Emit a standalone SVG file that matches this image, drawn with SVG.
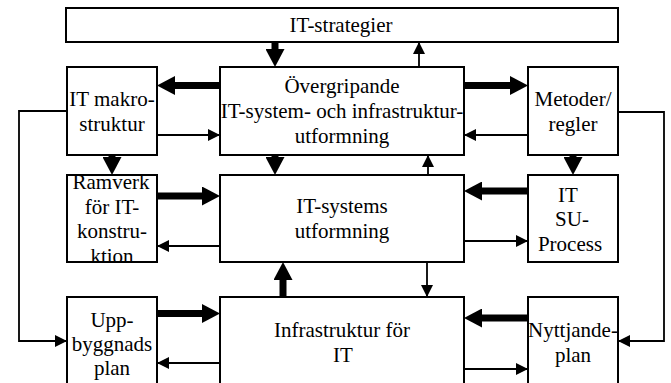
<svg xmlns="http://www.w3.org/2000/svg" width="671" height="383" viewBox="0 0 671 383">
<style>
.box{fill:#fff;stroke:#000;stroke-width:2}
.t{font-family:'Liberation Serif','Times New Roman','DejaVu Serif',serif;font-size:21px;fill:#000;text-anchor:middle}
.thick{fill:none;stroke:#000;stroke-width:7;marker-end:url(#hk)}
.thin{fill:none;stroke:#000;stroke-width:1.8;marker-end:url(#hn)}
</style>
<defs>
<marker id="hk" viewBox="0 0 18 19" markerWidth="18" markerHeight="19" refX="0" refY="9.5" orient="auto" markerUnits="userSpaceOnUse"><path d="M0,0 L18,9.5 L0,19 Z" fill="#000"/></marker>
<marker id="hn" viewBox="0 0 12 12" markerWidth="12" markerHeight="12" refX="12" refY="6" orient="auto" markerUnits="userSpaceOnUse"><path d="M0,0 L12,6 L0,12 Z" fill="#000"/></marker>
</defs>
<rect width="671" height="383" fill="#fff"/>
<g id="connectors">
<path class="thick" d="M275,42 V49"/>
<path class="thick" d="M220,85.5 H175"/>
<path class="thick" d="M464,85.5 H510"/>
<path class="thick" d="M112,155 V157"/>
<path class="thick" d="M275,155 V157"/>
<path class="thick" d="M573,155 V157"/>
<path class="thick" d="M157,196 H202"/>
<path class="thick" d="M528,191 H482"/>
<path class="thick" d="M283,297 V280"/>
<path class="thick" d="M157,313.5 H202"/>
<path class="thick" d="M528,318 H482"/>
<path class="thin" d="M419,67 V42"/>
<path class="thin" d="M157,135 H220"/>
<path class="thin" d="M528,135 H464"/>
<path class="thin" d="M428,175 V155"/>
<path class="thin" d="M220,246 H157"/>
<path class="thin" d="M464,241 H528"/>
<path class="thin" d="M427,262 V297"/>
<path class="thin" d="M220,363 H157"/>
<path class="thin" d="M464,369 H528"/>
<path class="thin" d="M67,111 H19 V341 H67"/>
<path class="thin" d="M618,112 H664 V341 H618"/>
</g>
<g id="it-strategier"><rect class="box" x="66" y="8" width="552" height="34"/><text class="t" x="341" y="32">IT-strategier</text></g>
<g id="it-makrostruktur"><rect class="box" x="67" y="67" width="90" height="88"/><text class="t" x="112" y="105.5">IT makro-</text><text class="t" x="112" y="130.5">struktur</text></g>
<g id="overgripande"><rect class="box" x="220" y="67" width="244" height="88"/><text class="t" x="342" y="93">Övergripande</text><text class="t" x="342" y="118">IT-system- och infrastruktur-</text><text class="t" x="342" y="143">utformning</text></g>
<g id="metoder"><rect class="box" x="528" y="67" width="90" height="88"/><text class="t" x="573" y="105.5">Metoder/</text><text class="t" x="573" y="130.5">regler</text></g>
<g id="ramverk"><rect class="box" x="67" y="175" width="90" height="87"/><text class="t" x="111" y="189">Ramverk</text><text class="t" x="112" y="213.5">för IT-</text><text class="t" x="112" y="238">konstru-</text><text class="t" x="112" y="262.5">ktion</text></g>
<g id="it-systems"><rect class="box" x="220" y="175" width="244" height="87"/><text class="t" x="342" y="213">IT-systems</text><text class="t" x="342" y="238">utformning</text></g>
<g id="it-su-process"><rect class="box" x="528" y="175" width="90" height="87"/><text class="t" x="568" y="201.5">IT</text><text class="t" x="572" y="226">SU-</text><text class="t" x="570" y="250.5">Process</text></g>
<g id="uppbyggnadsplan"><rect class="box" x="67" y="297" width="90" height="92"/><text class="t" x="112" y="326.5">Upp-</text><text class="t" x="112" y="350.5">byggnads</text><text class="t" x="112" y="375">plan</text></g>
<g id="infrastruktur"><rect class="box" x="220" y="297" width="244" height="92"/><text class="t" x="342" y="337">Infrastruktur för</text><text class="t" x="343" y="362">IT</text></g>
<g id="nyttjandeplan"><rect class="box" x="528" y="297" width="90" height="92"/><text class="t" x="573" y="337">Nyttjande-</text><text class="t" x="573" y="362">plan</text></g>
</svg>
